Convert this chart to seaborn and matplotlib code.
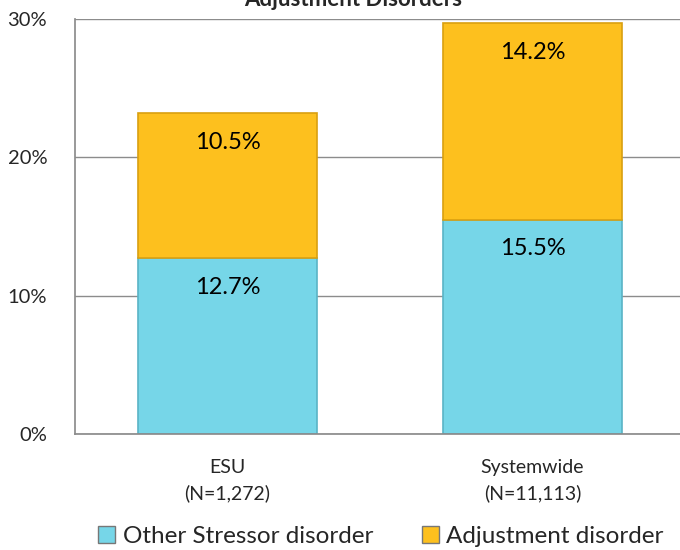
import seaborn as sns
import matplotlib.pyplot as plt
import pandas as pd
from matplotlib.patches import Patch

groups = ['ESU\n(N=1,272)', 'Systemwide\n(N=11,113)']
other_stressor = [12.7, 15.5]
adjustment = [10.5, 14.2]
series_names = ['Other Stressor disorder', 'Adjustment disorder']
colors = ['#76D6E8', '#FDC01E']
yticks = [0, 10, 20, 30]

sns.set_theme(style='white')
plt.rcParams['font.family'] = ['Lato', 'DejaVu Sans']

fig = plt.figure(figsize=(6.8, 5.5), dpi=100)
ax = fig.add_axes([75 / 680, 116 / 550, 610 / 680, 415 / 550])

df = pd.DataFrame({'group': groups, 'other': other_stressor, 'adj': adjustment})

sns.barplot(data=df, x='group', y='other', color=colors[0], width=0.59,
            edgecolor='#5AB4C6', linewidth=1.2, ax=ax, saturation=1)
sns.barplot(data=df, x='group', y='adj', bottom=df['other'], color=colors[1], width=0.59,
            edgecolor='#D9A010', linewidth=1.2, ax=ax, saturation=1)

for i, (a, b) in enumerate(zip(other_stressor, adjustment)):
    ax.annotate(f'{a}%', (i, a), xytext=(0, -21), textcoords='offset points',
                ha='center', va='center', fontsize=17, color='black')
    ax.annotate(f'{b}%', (i, a + b), xytext=(0, -21), textcoords='offset points',
                ha='center', va='center', fontsize=17, color='black')

ax.set_ylim(0, 30)
ax.set_xlim(-0.5, 1.5)
ax.set_yticks(yticks)
ax.set_yticklabels([f'{t}%' for t in yticks], fontsize=14.5)
ax.set_xticks([0, 1])
ax.set_xticklabels(groups, fontsize=14, linespacing=1.55)
ax.tick_params(axis='x', pad=12)
ax.tick_params(axis='y', pad=14)
ax.set_xlabel('')
ax.set_ylabel('')
ax.yaxis.grid(True, color='#8c8c8c', linewidth=1)
ax.set_axisbelow(True)
for s in ['top', 'right']:
    ax.spines[s].set_visible(False)
for s in ['left', 'bottom']:
    ax.spines[s].set_color('#8c8c8c')

fig.text(0.52, 1.0, 'Adjustment Disorders', ha='center', va='center',
         fontsize=16, fontweight='bold')

handles = [Patch(facecolor=c, edgecolor='#777777', label=n) for c, n in zip(colors, series_names)]
fig.legend(handles=handles, loc='lower center', bbox_to_anchor=(0.56, -0.035), ncol=2,
           frameon=False, fontsize=17.5, handlelength=0.7, handleheight=0.7,
           handletextpad=0.3, columnspacing=2.0)

fig.savefig('out.png', dpi=100)
